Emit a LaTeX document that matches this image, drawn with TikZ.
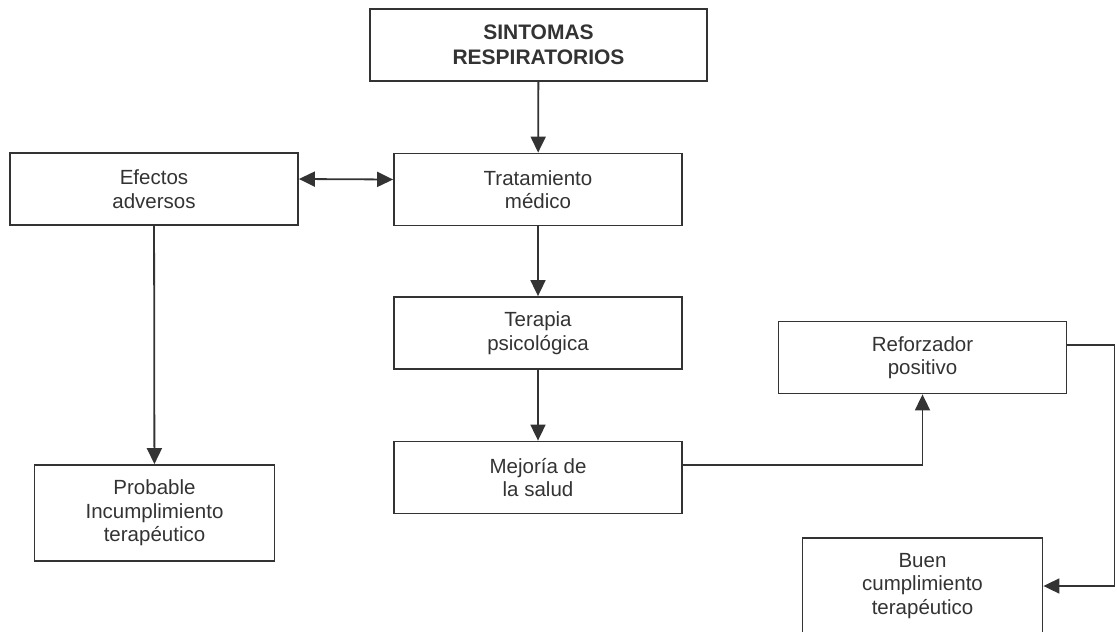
\documentclass[tikz,border=0pt]{standalone}
\usepackage{fontspec}
\setmainfont{Liberation Sans}
\usetikzlibrary{arrows.meta,positioning,calc}
\definecolor{ink}{HTML}{333333}

\begin{document}
\begin{tikzpicture}[x=1pt,y=-1pt,>={Triangle[length=16pt,width=15pt]},
  box/.style={draw=ink,line width=1.8pt,text=ink,align=center,inner sep=0pt,
    minimum width=288pt,minimum height=72pt,font=\fontsize{20.5}{23.5}\selectfont},
  headbox/.style={box,minimum width=337pt,font=\bfseries\fontsize{21}{25}\selectfont},
  smallbox/.style={box,minimum width=240pt,minimum height=96pt},
  link/.style={->,draw=ink,line width=1.8pt}]
  \clip (0,0) rectangle (1117,632);
  % central column
  \node[headbox] (sint) at (538.5,45)  {SINTOMAS\\RESPIRATORIOS};
  \node[box]     (trat) at (538,189.5) {Tratamiento\\médico};
  \node[box]     (tera) at (538,333)   {Terapia\\psicológica};
  \node[box]     (mejo) at (538,477.5) {Mejoría de\\la salud};
  % left branch
  \node[box]      (efec) at (154,189)   {Efectos\\adversos};
  \node[smallbox] (prob) at (154.5,513) {Probable\\Incumplimiento\\terapéutico};
  % right branch
  \node[box]      (refo) at (922.5,357.5) {Reforzador\\positivo};
  \node[smallbox] (buen) at (922.5,586)   {Buen\\cumplimiento\\terapéutico};
  % connectors
  \draw[link] (sint) -- (trat);
  \draw[link,<->] ([yshift=10pt]efec.east) -- ([yshift=10pt]trat.west);
  \draw[link] (efec) -- (prob);
  \draw[link] (trat) -- (tera);
  \draw[link] (tera) -- (mejo);
  \draw[link] ([yshift=12.5pt]mejo.east) -| (refo.south);
  \draw[link] ([yshift=12.5pt]refo.east) -- ++(47,0) |- (buen.east);
\end{tikzpicture}
\end{document}
